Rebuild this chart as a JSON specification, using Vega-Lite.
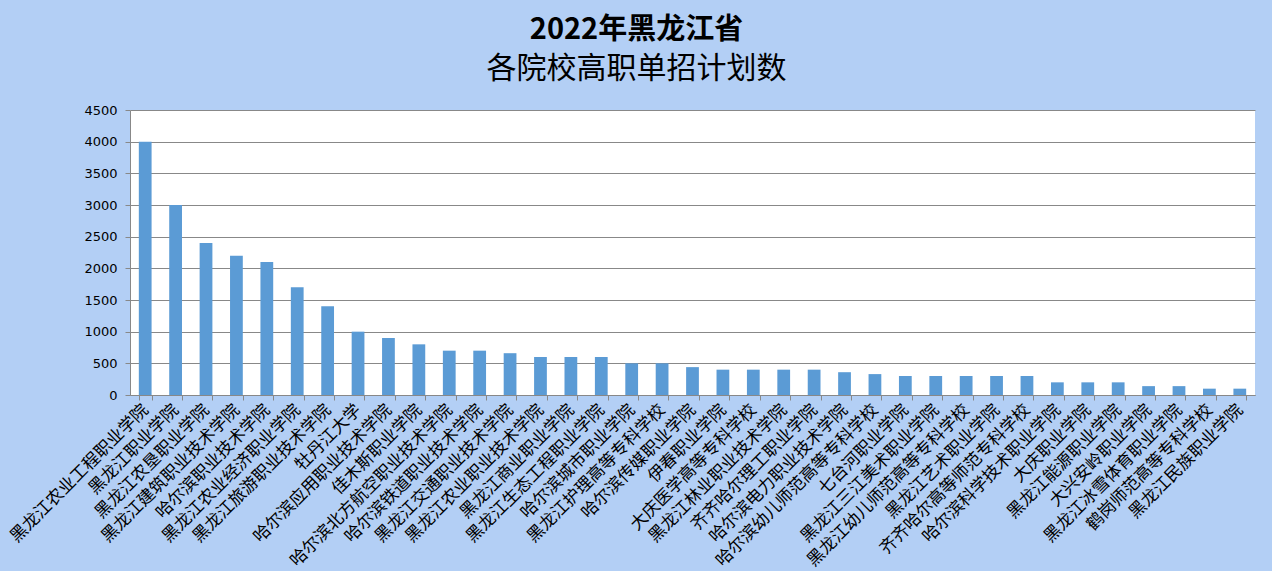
{
  "$schema": "https://vega.github.io/schema/vega-lite/v6.json",
  "width": 1125,
  "height": 285,
  "autosize": {"type": "none"},
  "padding": {"left": 130, "top": 110, "right": 17, "bottom": 176},
  "background": "#b3cff5",
  "title": {
    "text": "2022年黑龙江省",
    "subtitle": "各院校高职单招计划数",
    "anchor": "middle",
    "dx": -56,
    "offset": 20,
    "font": "Noto Sans CJK SC",
    "fontSize": 29,
    "fontWeight": "bold",
    "color": "#000000",
    "subtitleFont": "Noto Sans CJK SC",
    "subtitleFontSize": 30,
    "subtitleFontWeight": "normal",
    "subtitleColor": "#000000",
    "subtitlePadding": 9
  },
  "data": {
    "values": [
      {"name": "黑龙江农业工程职业学院", "value": 4000},
      {"name": "黑龙江职业学院", "value": 3000},
      {"name": "黑龙江农垦职业学院", "value": 2400},
      {"name": "黑龙江建筑职业技术学院", "value": 2200},
      {"name": "哈尔滨职业技术学院", "value": 2100},
      {"name": "黑龙江农业经济职业学院", "value": 1700},
      {"name": "黑龙江旅游职业技术学院", "value": 1400},
      {"name": "牡丹江大学", "value": 1000},
      {"name": "哈尔滨应用职业技术学院", "value": 900},
      {"name": "佳木斯职业学院", "value": 800},
      {"name": "哈尔滨北方航空职业技术学院", "value": 700},
      {"name": "哈尔滨铁道职业技术学院", "value": 700},
      {"name": "黑龙江交通职业技术学院", "value": 660},
      {"name": "黑龙江农业职业技术学院", "value": 600},
      {"name": "黑龙江商业职业学院", "value": 600},
      {"name": "黑龙江生态工程职业学院", "value": 600},
      {"name": "哈尔滨城市职业学院", "value": 500},
      {"name": "黑龙江护理高等专科学校", "value": 500},
      {"name": "哈尔滨传媒职业学院", "value": 440},
      {"name": "伊春职业学院", "value": 400},
      {"name": "大庆医学高等专科学校", "value": 400},
      {"name": "黑龙江林业职业技术学院", "value": 400},
      {"name": "齐齐哈尔理工职业学院", "value": 400},
      {"name": "哈尔滨电力职业技术学院", "value": 360},
      {"name": "哈尔滨幼儿师范高等专科学校", "value": 330},
      {"name": "七台河职业学院", "value": 300},
      {"name": "黑龙江三江美术职业学院", "value": 300},
      {"name": "黑龙江幼儿师范高等专科学校", "value": 300},
      {"name": "黑龙江艺术职业学院", "value": 300},
      {"name": "齐齐哈尔高等师范专科学校", "value": 300},
      {"name": "哈尔滨科学技术职业学院", "value": 200},
      {"name": "大庆职业学院", "value": 200},
      {"name": "黑龙江能源职业学院", "value": 200},
      {"name": "大兴安岭职业学院", "value": 140},
      {"name": "黑龙江冰雪体育职业学院", "value": 140},
      {"name": "鹤岗师范高等专科学校", "value": 100},
      {"name": "黑龙江民族职业学院", "value": 100}
    ]
  },
  "mark": {"type": "bar", "color": "#5b9bd5"},
  "encoding": {
    "x": {
      "field": "name",
      "type": "nominal",
      "sort": null,
      "scale": {"paddingInner": 0.58, "paddingOuter": 0.29},
      "axis": {
        "title": null,
        "labelAngle": -45,
        "labelAlign": "right",
        "labelBaseline": "middle",
        "labelFont": "Noto Sans CJK SC",
        "labelFontSize": 17,
        "labelColor": "#000000",
        "labelLimit": 400,
        "labelPadding": 7,
        "labelOverlap": false,
        "tickBand": "extent",
        "tickColor": "#888888",
        "tickSize": 5,
        "domainColor": "#888888",
        "grid": false
      }
    },
    "y": {
      "field": "value",
      "type": "quantitative",
      "scale": {"domain": [0, 4500], "nice": false},
      "axis": {
        "title": null,
        "format": "d",
        "values": [0, 500, 1000, 1500, 2000, 2500, 3000, 3500, 4000, 4500],
        "labelFont": "DejaVu Sans",
        "labelFontSize": 13,
        "labelColor": "#000000",
        "labelPadding": 8,
        "tickColor": "#888888",
        "tickSize": 5,
        "domainColor": "#888888",
        "grid": true,
        "gridColor": "#888888",
        "gridOpacity": 1
      }
    }
  },
  "config": {
    "view": {"fill": "#ffffff", "stroke": null}
  }
}
